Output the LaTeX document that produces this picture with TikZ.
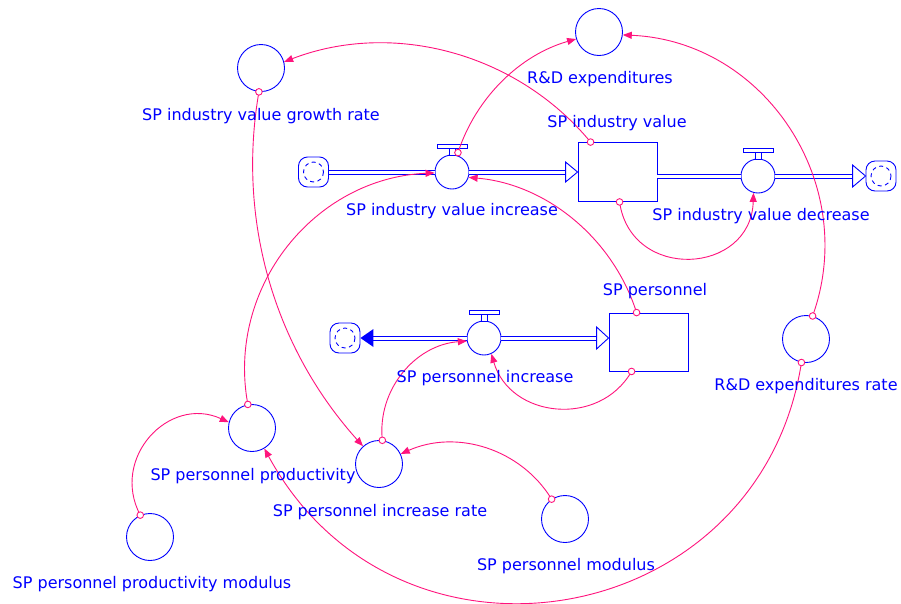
\documentclass[tikz,border=0pt]{standalone}
\usepackage{fontspec}
\newfontfamily\lblfont{DejaVu Sans}
\usetikzlibrary{arrows.meta}
\definecolor{sdblue}{RGB}{0,0,255}
\definecolor{linkpink}{RGB}{255,20,125}
\tikzset{
  valvetop/.pic={
    \draw[sdblue,line width=0.9pt,fill=white] (-15,-27.5) rectangle (15,-23.5);
    \draw[sdblue,line width=0.9pt,fill=white] (-3,-23.5) rectangle (3,-16.5);
  }
}
\begin{document}
\begin{tikzpicture}[x=1pt,y=-1pt,
  aux/.style={circle,draw=sdblue,line width=0.9pt,minimum size=47pt,inner sep=0pt},
  valve/.style={circle,draw=sdblue,fill=white,line width=0.9pt,minimum size=34pt,inner sep=0pt},
  stock/.style={rectangle,draw=sdblue,line width=0.9pt,minimum width=79pt,minimum height=59pt,inner sep=0pt},
  srccloud/.style={rectangle,draw=sdblue,line width=0.9pt,rounded corners=9pt,minimum size=30pt,inner sep=0pt},
  pipe/.style={draw=sdblue,line width=5pt,postaction={draw=white,line width=3pt}},
  openhead/.style={draw=sdblue,fill=white,line width=0.9pt,line join=miter},
  conn/.style={draw=linkpink,line width=0.9pt,-{Triangle[length=9pt,width=7pt]}},
  srcdot/.style={draw=linkpink,line width=0.9pt,fill=white},
  lbl/.style={text=sdblue,font=\lblfont\fontsize{16}{19}\selectfont,inner sep=0pt,anchor=base}
]
\fill[white] (0,0) rectangle (901,603);
\useasboundingbox (0,0) rectangle (901,603);

% auxiliary variables
\node[aux] (gr)  at (261,68)  {};
\node[aux] (rd)  at (599,32)  {};
\node[aux] (rr)  at (806,339) {};
\node[aux] (pp)  at (252,428) {};
\node[aux] (ppm) at (150,537) {};
\node[aux] (ir)  at (379,464) {};
\node[aux] (pm)  at (565,519) {};

% stocks
\node[stock] (iv) at (617.5,172) {};
\node[stock,minimum height=58pt] (sp) at (648.5,342) {};

% valves
\node[valve] (vi) at (452,172) {};
\node[valve] (vd) at (758,176) {};
\node[valve] (vp) at (484,338) {};
\foreach \v in {vi,vd,vp} \pic at (\v.center) {valvetop};

% sources and sinks
\node[srccloud] (c1) at (313.5,172) {};
\node[srccloud] (c2) at (881,176) {};
\node[srccloud] (c3) at (345,338) {};
\foreach \c in {c1,c2,c3}
  \draw[sdblue,line width=0.9pt,dash pattern=on 4pt off 3.5pt] (\c.center) circle[radius=10];

% flow pipes
\coordinate (h1) at (iv.west |- vi.center);
\draw[pipe] (c1.east) -- (vi.west);
\draw[pipe] (vi.east) -- ([xshift=-12pt]h1);
\draw[openhead] (h1) -- ++(-12,-10) -- ++(0,20) -- cycle;

\coordinate (d0) at (iv.east |- vd.center);
\draw[pipe] (d0) -- (vd.west);
\draw[pipe] (vd.east) -- ([xshift=-13pt]c2.west);
\draw[openhead] (c2.west) -- ++(-13,-11) -- ++(0,22) -- cycle;

\coordinate (h3) at (sp.west |- vp.center);
\draw[pipe] (vp.east) -- ([xshift=-12pt]h3);
\draw[openhead] (h3) -- ++(-12,-11) -- ++(0,22) -- cycle;
\draw[pipe] (vp.west) -- ([xshift=13pt]c3.east);
\fill[sdblue] (c3.east) -- ++(13,-9) -- ++(0,18) -- cycle;

% connector end points on the stocks and valve stem
\coordinate (ivT) at ([xshift=13pt]iv.north west);
\coordinate (ivB) at ([xshift=42pt]iv.south west);
\coordinate (spT) at ([xshift=28pt]sp.north west);
\coordinate (spB) at ([xshift=23pt]sp.south west);
\coordinate (viT) at ([yshift=3pt]vi.70);

% causal links
\draw[conn] (ivT) .. controls (517,53) and (393,20) .. (gr.15);
\draw[conn] (gr.-95) .. controls (237,218) and (273,346) .. (ir.132);
\draw[conn] (viT) .. controls (476,97.5) and (520,55) .. (rd.197);
\draw[conn] (rr.74) .. controls (860,184) and (765,41) .. (rd.-7);
\draw[conn] (spT) .. controls (613,238) and (546,184) .. (vi.-18);
\draw[conn] (pp.100) .. controls (226,287) and (315,178) .. (vi.183);
\draw[conn] (ivB) .. controls (631,282) and (751,275) .. (vd.-105);
\draw[conn] (spB) .. controls (599,428) and (510,418) .. (vp.-65);
\draw[conn] (ir.82) .. controls (377,390) and (415,345) .. (vp.190);
\draw[conn] (pm.124) .. controls (521,449) and (457,429) .. (ir.25);
\draw[conn] (ppm.114) .. controls (110,458) and (169,395) .. (pp.166);
\draw[conn] (rr.-101) .. controls (760,631) and (398,694) .. (pp.-59);
\foreach \p in {ivT,gr.-95,viT,rr.74,spT,pp.100,ivB,spB,ir.82,pm.124,ppm.114,rr.-101}
  \draw[srcdot] (\p) circle[radius=3.3];

% names
\node[lbl] (tgr)  at (261,120) {SP industry value growth rate};
\node[lbl] (trd)  at (600,83)  {R\&D expenditures};
\node[lbl] (tiv)  at (617,127) {SP industry value};
\node[lbl] (tvi)  at (452,215) {SP industry value increase};
\node[lbl] (tvd)  at (761,220) {SP industry value decrease};
\node[lbl] (tsp)  at (655,295) {SP personnel};
\node[lbl] (tvp)  at (485,382) {SP personnel increase};
\node[lbl] (tpp)  at (253,480) {SP personnel productivity};
\node[lbl] (tir)  at (380,516) {SP personnel increase rate};
\node[lbl] (tpm)  at (566,570) {SP personnel modulus};
\node[lbl] (tppm) at (152,588) {SP personnel productivity modulus};
\node[lbl] (trr)  at (806,390) {R\&D expenditures rate};
\end{tikzpicture}
\end{document}
